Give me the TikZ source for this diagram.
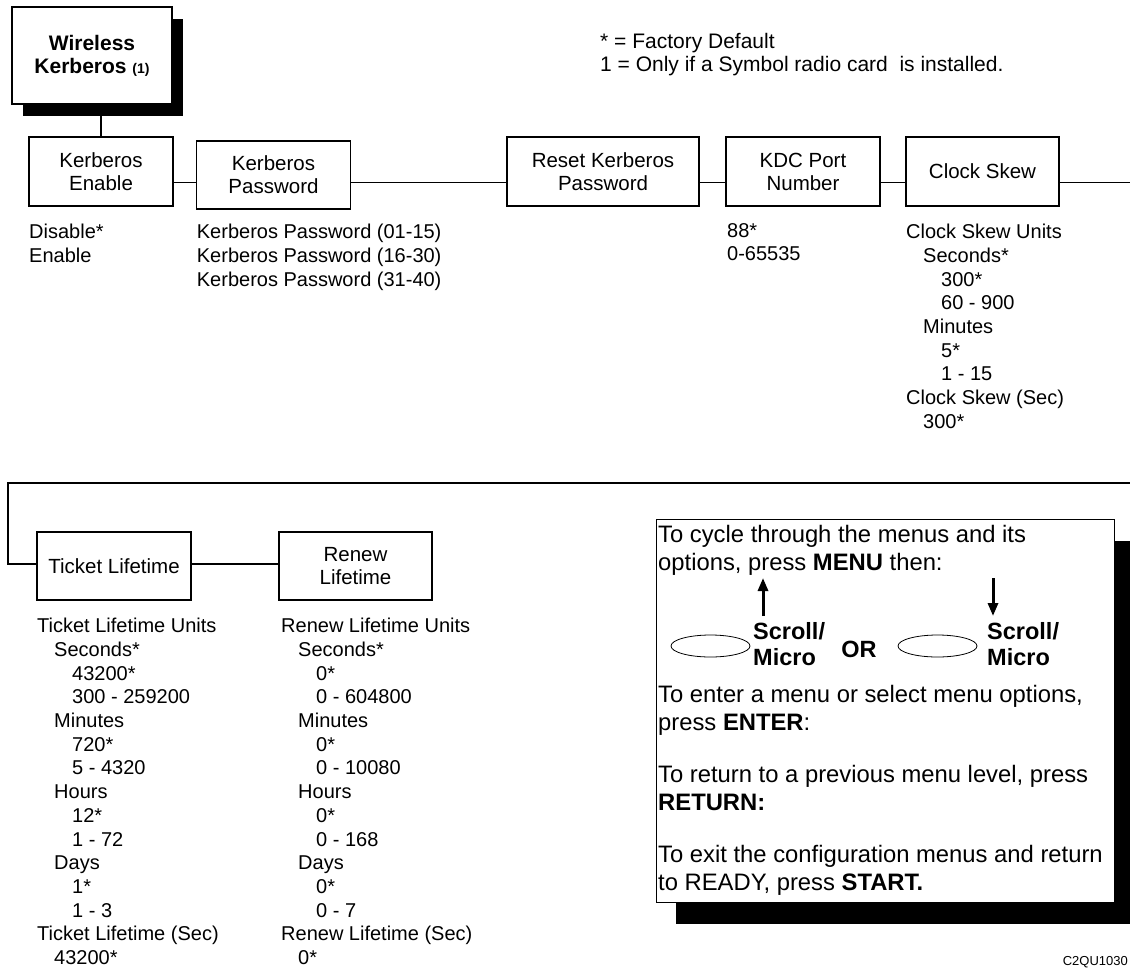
\documentclass[tikz,border=0pt]{standalone}
\usepackage{fontspec}
\setmainfont{Liberation Sans}
\usetikzlibrary{shadows,shapes.geometric,arrows.meta}

\newcommand{\indA}{\hspace*{17pt}}
\newcommand{\indB}{\hspace*{35pt}}

\tikzset{
  menubox/.style={draw, line width=1.6pt, fill=white, inner sep=0pt,
    align=center, font=\fontsize{20.5}{23}\selectfont},
  headbox/.style={menubox, font=\fontsize{21}{23}\selectfont\bfseries,
    drop shadow={shadow xshift=11pt, shadow yshift=-12pt, fill=black, opacity=1}},
  optlist/.style={anchor=north west, inner sep=0pt, align=left,
    font=\fontsize{20}{23.7}\selectfont},
  link/.style={line width=1.4pt},
  helptext/.style={anchor=north west, inner sep=0pt, align=left,
    font=\fontsize{23.8}{28.3}\selectfont},
  keylabel/.style={anchor=north west, inner sep=0pt, align=left,
    font=\fontsize{23.5}{26}\selectfont\bfseries},
  keyoval/.style={ellipse, draw, line width=0.8pt, minimum width=79pt,
    minimum height=22pt, inner sep=0pt},
  keyarrow/.style={line width=3pt, -{Triangle[length=13pt, width=10pt]}},
}

\begin{document}
\begin{tikzpicture}[x=1pt, y=-1pt]
  \useasboundingbox (0,0) rectangle (1130,967);

  %% --- legend ---
  \node[anchor=north west, inner sep=0pt, align=left,
    font=\fontsize{21}{23}\selectfont] (legend) at (600,33)
    {* = Factory Default\\1 = Only if a Symbol radio card\ \ is installed.};

  %% --- top row: Wireless Kerberos and its menus ---
  \node[headbox, minimum width=160pt, minimum height=97pt] (wireless) at (92,55.5)
    {Wireless\\Kerberos {\fontsize{14}{14}\selectfont (1)}};
  \node[menubox, minimum width=144pt, minimum height=69pt] (enable) at (101,171.5) {Kerberos\\Enable};
  \node[menubox, minimum width=154pt, minimum height=68pt] (passwd) at (273.5,175) {Kerberos\\Password};
  \node[menubox, minimum width=192pt, minimum height=69pt] (reset) at (603,171.5) {Reset Kerberos\\Password};
  \node[menubox, minimum width=154pt, minimum height=69pt] (kdc) at (803,171.5) {KDC Port\\Number};
  \node[menubox, minimum width=153pt, minimum height=69pt] (skew) at (982.5,171.5) {Clock Skew};

  \coordinate (row1) at (0,182.5);
  \coordinate (row1end) at (1130,182.5);
  \draw[link] (wireless.south -| enable.north) -- (enable.north);
  \draw[link] (enable.east |- row1) -- (passwd.west |- row1);
  \draw[link] (passwd.east |- row1) -- (reset.west |- row1);
  \draw[link] (reset.east |- row1) -- (kdc.west |- row1);
  \draw[link] (kdc.east |- row1) -- (skew.west |- row1);
  \draw[link] (skew.east |- row1) -- (row1end);

  %% options under the top row
  \node[optlist] (enableopt) at (29,224) {Disable*\\Enable};
  \node[optlist] (passwdopt) at (196.7,224)
    {Kerberos Password (01-15)\\Kerberos Password (16-30)\\Kerberos Password (31-40)};
  \node[optlist] (kdcopt) at (727,223) {88*\\0-65535};
  \node[optlist] (skewopt) at (906,224)
    {Clock Skew Units\\\indA Seconds*\\\indB 300*\\\indB 60 - 900\\\indA Minutes\\
     \indB 5*\\\indB 1 - 15\\Clock Skew (Sec)\\\indA 300*};

  %% --- second row: wraps round from the right ---
  \node[menubox, minimum width=154pt, minimum height=68pt] (ticket) at (114,566) {Ticket Lifetime};
  \node[menubox, minimum width=153pt, minimum height=68pt] (renew) at (355.5,566) {Renew\\Lifetime};

  \coordinate (wrapR) at (1130,483);
  \coordinate (wrapL) at (8,483);
  \coordinate (row2) at (8,564);
  \draw[link] (wrapR) -- (wrapL) -- (row2) -- (ticket.west |- row2);
  \draw[link] (ticket.east |- row2) -- (renew.west |- row2);

  \node[optlist] (ticketopt) at (37,618)
    {Ticket Lifetime Units\\\indA Seconds*\\\indB 43200*\\\indB 300 - 259200\\
     \indA Minutes\\\indB 720*\\\indB 5 - 4320\\\indA Hours\\\indB 12*\\\indB 1 - 72\\
     \indA Days\\\indB 1*\\\indB 1 - 3\\Ticket Lifetime (Sec)\\\indA 43200*};
  \node[optlist] (renewopt) at (281,618)
    {Renew Lifetime Units\\\indA Seconds*\\\indB 0*\\\indB 0 - 604800\\
     \indA Minutes\\\indB 0*\\\indB 0 - 10080\\\indA Hours\\\indB 0*\\\indB 0 - 168\\
     \indA Days\\\indB 0*\\\indB 0 - 7\\Renew Lifetime (Sec)\\\indA 0*};

  %% --- key help panel ---
  \node[draw, fill=white, line width=0.9pt, inner sep=0pt,
    minimum width=458pt, minimum height=383pt,
    drop shadow={shadow xshift=20pt, shadow yshift=-22pt, fill=black, opacity=1}]
    (help) at (885,710.5) {};

  \node[helptext] (cycle) at (658,525)
    {To cycle through the menus and its\\options, press \textbf{MENU} then:};
  \node[keyoval] (upkey) at (710.5,646) {};
  \node[keylabel] (uplabel) at (753,622) {Scroll/\\Micro};
  \node[inner sep=0pt, font=\fontsize{23.5}{23.5}\selectfont\bfseries] (orword) at (859,649) {OR};
  \node[keyoval] (downkey) at (937.5,646) {};
  \node[keylabel] (downlabel) at (987,622) {Scroll/\\Micro};

  \coordinate (upfoot) at (763,616);
  \coordinate (uptip) at (763,578);
  \coordinate (downfoot) at (993,578);
  \coordinate (downtip) at (993,616);
  \draw[keyarrow] (upfoot) -- (uptip);
  \draw[keyarrow] (downfoot) -- (downtip);

  \node[helptext] (enter) at (658,685)
    {To enter a menu or select menu options,\\press \textbf{ENTER}:};
  \node[helptext] (return) at (658,765)
    {To return to a previous menu level, press\\\textbf{RETURN:}};
  \node[helptext] (exit) at (658,845)
    {To exit the configuration menus and return\\to READY, press \textbf{START.}};

  \node[anchor=east, inner sep=0pt, font=\fontsize{13}{13}\selectfont] (figid) at (1128,962) {C2QU1030};
\end{tikzpicture}
\end{document}
